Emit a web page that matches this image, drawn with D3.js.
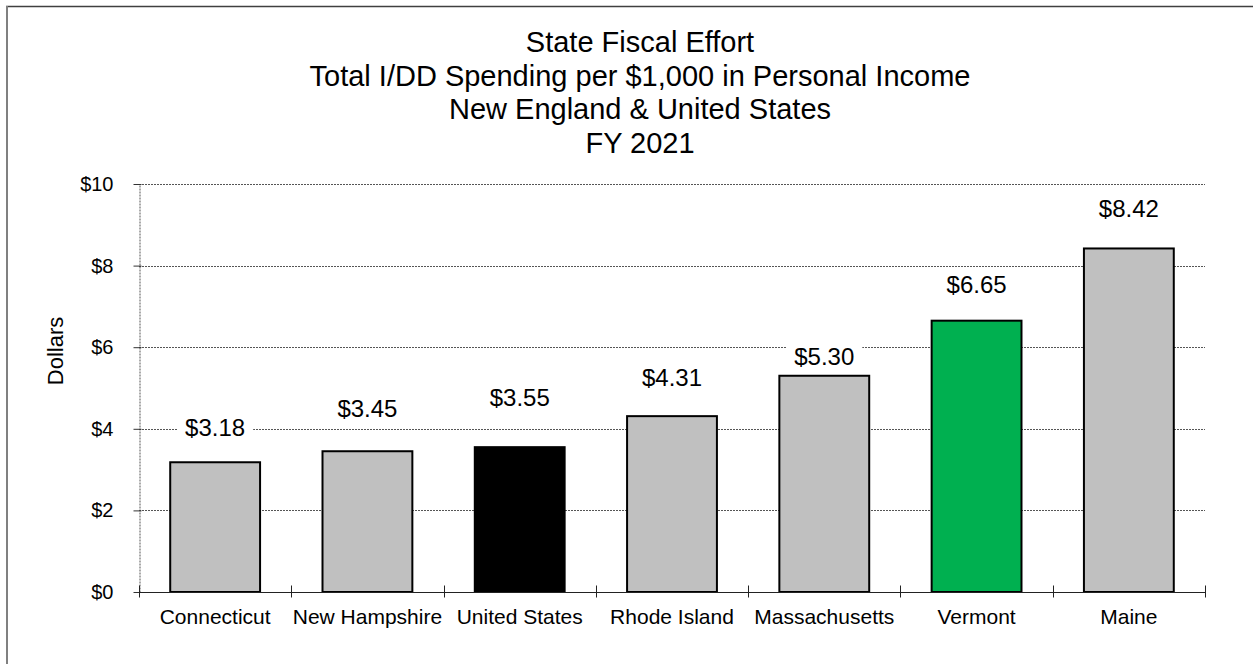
<!DOCTYPE html>
<html>
<head>
<meta charset="utf-8">
<script src="https://cdn.jsdelivr.net/npm/d3@7"></script>
<style>
  html, body { margin: 0; padding: 0; background: #fff; }
  svg { display: block; font-family: "Liberation Sans", Arial, sans-serif; }
</style>
</head>
<body>
<svg width="1253" height="664"></svg>
<script>
// data
const categories = ['Connecticut', 'New Hampshire', 'United States', 'Rhode Island', 'Massachusetts', 'Vermont', 'Maine'];
const values = [3.18, 3.45, 3.55, 4.31, 5.30, 6.65, 8.42];
const barColors = ['#c0c0c0', '#c0c0c0', '#000000', '#c0c0c0', '#c0c0c0', '#00b050', '#c0c0c0'];
const yTicks = [0, 2, 4, 6, 8, 10];
const titleLines = ['State Fiscal Effort', 'Total I/DD Spending per $1,000 in Personal Income', 'New England & United States', 'FY 2021'];

// labels were hand placed in the original, gap (px) from bar top to label centre
const labelGap = [35, 43, 50, 39, 19, 36, 40];

const plot = { left: 139, right: 1205, top: 184, bottom: 592 };

const svg = d3.select('svg');

// outer chart border (only top & left visible)
svg.append('line').attr('x1', 6).attr('x2', 1253).attr('y1', 6.5).attr('y2', 6.5)
  .attr('stroke', '#404040').attr('stroke-width', 1.5);
svg.append('line').attr('x1', 7).attr('x2', 7).attr('y1', 6).attr('y2', 664)
  .attr('stroke', '#808080').attr('stroke-width', 2);

const x = d3.scaleBand()
  .domain(categories)
  .range([plot.left, plot.right])
  .paddingInner(0.41)
  .paddingOuter(0.205);

const y = d3.scaleLinear().domain([0, 10]).range([plot.bottom, plot.top]);

// title
svg.append('g').selectAll('text')
  .data(titleLines)
  .enter()
  .append('text')
  .attr('x', 640)
  .attr('y', (d, i) => 52 + i * 33.7)
  .attr('text-anchor', 'middle')
  .attr('font-size', 29)
  .attr('fill', '#000')
  .text(d => d);

// gridlines
svg.append('g').selectAll('line')
  .data(yTicks.filter(d => d > 0))
  .enter()
  .append('line')
  .attr('x1', plot.left)
  .attr('x2', plot.right)
  .attr('y1', d => Math.round(y(d)) + 0.5)
  .attr('y2', d => Math.round(y(d)) + 0.5)
  .attr('stroke', '#555')
  .attr('stroke-width', 1)
  .attr('stroke-dasharray', '2,1');

// y axis
const yAxis = svg.append('g')
  .attr('transform', `translate(${plot.left + 0.5},0)`)
  .call(d3.axisLeft(y).tickValues(yTicks).tickFormat(d => '$' + d).tickSizeInner(5).tickSizeOuter(0).tickPadding(21));
yAxis.attr('font-size', 20).attr('font-family', '"Liberation Sans", Arial, sans-serif');
yAxis.select('.domain').attr('stroke', '#555').attr('stroke-dasharray', '2,1');
yAxis.selectAll('.tick line').attr('stroke', '#333').attr('x2', -6).attr('x1', 2);
yAxis.selectAll('.tick text').attr('fill', '#000');

// y label
svg.append('text')
  .attr('transform', 'translate(63,351) rotate(-90)')
  .attr('text-anchor', 'middle')
  .attr('font-size', 22)
  .attr('fill', '#000')
  .text('Dollars');

// bars
svg.append('g').selectAll('.bar')
  .data(values)
  .enter()
  .append('rect')
  .attr('class', 'bar')
  .attr('x', (d, i) => x(categories[i]))
  .attr('y', d => y(d))
  .attr('width', x.bandwidth())
  .attr('height', d => plot.bottom - y(d))
  .attr('fill', (d, i) => barColors[i])
  .attr('stroke', '#000')
  .attr('stroke-width', 2);

// value labels, white boxes behind them hide the gridlines
const labels = svg.append('g').selectAll('g')
  .data(values)
  .enter()
  .append('g')
  .attr('transform', (d, i) => `translate(${x(categories[i]) + x.bandwidth() / 2},${y(d) - labelGap[i]})`);
labels.append('rect')
  .attr('x', -38).attr('y', -15)
  .attr('width', 76).attr('height', 30)
  .attr('fill', '#fff');
labels.append('text')
  .attr('dy', '0.35em')
  .attr('text-anchor', 'middle')
  .attr('font-size', 24)
  .attr('fill', '#000')
  .text(d => '$' + d.toFixed(2));

// x axis
const xAxisG = svg.append('g').attr('transform', `translate(0,${plot.bottom + 0.5})`);
xAxisG.append('line')
  .attr('x1', plot.left).attr('x2', plot.right)
  .attr('stroke', '#222').attr('stroke-width', 1.2);
const step = x.step();
xAxisG.selectAll('.xtick')
  .data(d3.range(categories.length + 1))
  .enter()
  .append('line')
  .attr('class', 'xtick')
  .attr('x1', i => Math.round(plot.left + i * step) + 0.5)
  .attr('x2', i => Math.round(plot.left + i * step) + 0.5)
  .attr('y1', -7)
  .attr('y2', 5)
  .attr('stroke', '#222');
xAxisG.selectAll('.xlabel')
  .data(categories)
  .enter()
  .append('text')
  .attr('class', 'xlabel')
  .attr('x', d => x(d) + x.bandwidth() / 2)
  .attr('y', 31)
  .attr('text-anchor', 'middle')
  .attr('font-size', 21)
  .attr('fill', '#000')
  .text(d => d);
</script>
</body>
</html>
